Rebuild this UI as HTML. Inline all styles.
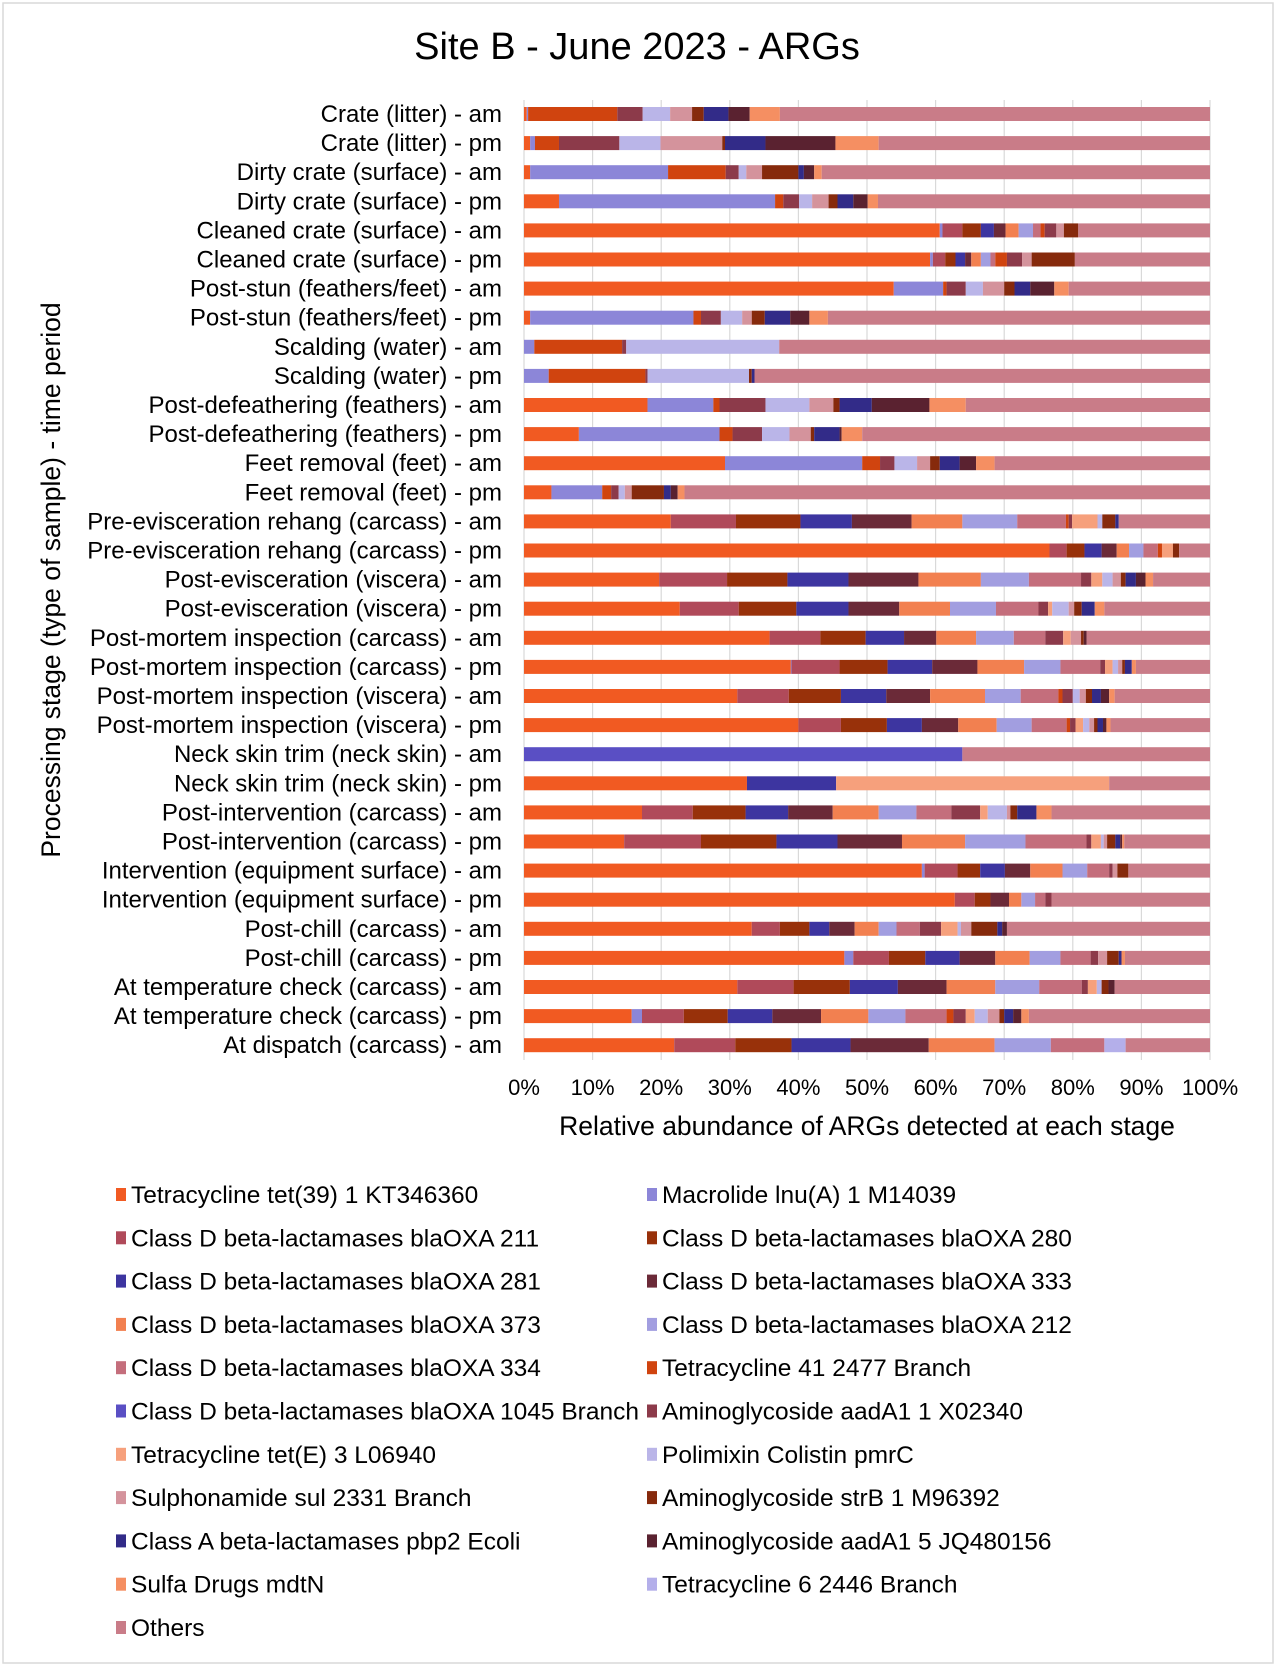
<!DOCTYPE html>
<html><head><meta charset="utf-8">
<style>
html,body{margin:0;padding:0;background:#fff;}
svg{display:block;font-family:"Liberation Sans",Arial,sans-serif;}
</style></head>
<body>
<svg id="chart" width="1277" height="1667" viewBox="0 0 1277 1667" xmlns="http://www.w3.org/2000/svg">
<rect x="3" y="3" width="1270" height="1660" fill="#fff" stroke="#d9d9d9" stroke-width="1.5"/>
<text x="637" y="59" font-size="38" text-anchor="middle" fill="#000">Site B - June 2023 - ARGs</text>
<text transform="translate(60,580) rotate(-90)" font-size="26.5" text-anchor="middle" fill="#000">Processing stage (type of sample) - time period</text>
<text x="867" y="1135" font-size="26.5" text-anchor="middle" fill="#000">Relative abundance of ARGs detected at each stage</text>
<g id="grid"></g><g id="bars"></g><g id="ylabels"></g><g id="xticks"></g><g id="legend"></g>
</svg>
<script>
const categories = ["Crate (litter) - am","Crate (litter) - pm","Dirty crate (surface) - am","Dirty crate (surface) - pm","Cleaned crate (surface) - am","Cleaned crate (surface) - pm","Post-stun (feathers/feet) - am","Post-stun (feathers/feet) - pm","Scalding (water) - am","Scalding (water) - pm","Post-defeathering (feathers) - am","Post-defeathering (feathers) - pm","Feet removal (feet) - am","Feet removal (feet) - pm","Pre-evisceration rehang (carcass) - am","Pre-evisceration rehang (carcass) - pm","Post-evisceration (viscera) - am","Post-evisceration (viscera) - pm","Post-mortem inspection  (carcass) - am","Post-mortem inspection  (carcass) - pm","Post-mortem inspection (viscera) - am","Post-mortem inspection (viscera) - pm","Neck skin trim (neck skin) - am","Neck skin trim (neck skin) - pm","Post-intervention (carcass) - am","Post-intervention (carcass) - pm","Intervention (equipment surface) - am","Intervention (equipment surface) - pm","Post-chill (carcass) - am","Post-chill (carcass) - pm","At temperature check (carcass) - am","At temperature check (carcass) - pm","At dispatch (carcass) - am"];
const seriesNames = ["Tetracycline tet(39) 1 KT346360","Macrolide lnu(A) 1 M14039","Class D beta-lactamases blaOXA 211","Class D beta-lactamases blaOXA 280","Class D beta-lactamases blaOXA 281","Class D beta-lactamases blaOXA 333","Class D beta-lactamases blaOXA 373","Class D beta-lactamases blaOXA 212","Class D beta-lactamases blaOXA 334","Tetracycline 41 2477 Branch","Class D beta-lactamases blaOXA 1045 Branch","Aminoglycoside aadA1 1 X02340","Tetracycline tet(E) 3 L06940","Polimixin Colistin pmrC","Sulphonamide sul 2331 Branch","Aminoglycoside strB 1 M96392","Class A beta-lactamases pbp2 Ecoli","Aminoglycoside aadA1 5 JQ480156","Sulfa Drugs mdtN","Tetracycline 6 2446 Branch","Others"];
const seriesColors = ["#F15A22","#8C86D8","#B04A5A","#98310A","#3D35A0","#6B2A38","#F28050","#A29EE0","#C46E7C","#D0440F","#5A4FC4","#8C3A4A","#F6A07C","#BAB5E8","#D4939C","#862A0C","#322B88","#5A2230","#F58F62","#B4AFEA","#C97C88"];
const tet39 = [0.4,0.9,0.9,5.1,60.6,59.2,53.9,0.9,0,0,18.0,8.0,29.3,4.0,21.4,76.6,19.7,22.7,35.8,38.9,31.1,40.0,0,32.5,17.2,14.6,58.0,62.8,33.2,46.7,31.1,15.7,21.9];
const lnuA = [0.2,0.7,20.1,31.5,0.4,0.4,7.2,23.8,1.5,3.6,9.6,20.5,20.0,7.4,0,0,0,0,0,0.1,0,0,0,0,0,0,0.4,0,0,1.3,0,1.5,0];
const oxa211 = [0,0,0,0,2.9,1.8,0,0,0,0,0,0,0,0,9.5,2.5,9.9,8.6,7.4,7.0,7.5,6.2,0,0,7.4,11.2,4.8,2.9,4.1,5.2,8.2,6.1,8.9];
const oxa280 = [0,0,0,0,2.7,1.5,0,0,0,0,0,0,0,0,9.4,2.6,8.8,8.4,6.6,7.0,7.6,6.7,0,0,7.7,11.0,3.3,2.3,4.3,5.3,8.2,6.4,8.2];
const oxa281 = [0,0,0,0,1.9,1.4,0,0,0,0,0,0,0,0,7.5,2.5,8.9,7.6,5.6,6.5,6.6,5.1,0,13.0,6.2,8.9,3.6,0,2.9,5.0,7.0,6.5,8.6];
const oxa333 = [0,0,0,0,1.7,0.9,0,0,0,0,0,0,0,0,8.7,2.2,10.2,7.4,4.7,6.6,6.4,5.3,0,0,6.5,9.4,3.7,2.7,3.7,5.2,7.1,7.1,11.4];
const oxa373 = [0,0,0,0,1.9,1.4,0,0,0,0,0,0,0,0,7.4,1.8,9.1,7.4,5.8,6.8,8.0,5.6,0,0,6.7,9.2,4.7,1.8,3.5,5.0,7.1,6.9,9.6];
const oxa212 = [0,0,0,0,2.1,1.4,0,0,0,0,0,0,0,0,8.0,2.1,7.0,6.7,5.5,5.3,5.2,5.1,0,0,5.5,8.8,3.6,2.0,2.6,4.5,6.4,5.4,8.2];
const oxa334 = [0,0,0,0,1.1,0.7,0,0,0,0,0,0,0,0,7.1,2.1,7.6,6.2,4.6,5.8,5.5,5.1,0,0,5.1,8.9,3.2,1.5,3.4,4.4,6.2,6.0,7.8];
const tet41 = [13.0,3.5,8.4,1.2,0.6,1.7,0.5,1.1,12.8,14.1,0.9,1.9,2.6,1.3,0.4,0.6,0,0,0,0,0.6,0.5,0,0,0,0,0,0,0,0,0,1.0,0];
const oxa1045 = [0,0,0,0,0,0,0,0,0,0,0,0,0,0,0,0,0,0,0,0,0,0,63.9,0,0,0,0,0,0,0,0,0,0];
const aadA1_1 = [3.7,8.8,1.9,2.3,1.7,2.2,2.8,2.9,0.6,0.3,6.7,4.3,2.1,1.1,0.5,0,1.5,1.4,2.6,0.7,1.5,0.8,0,0,4.2,0.7,0.5,0.9,3.1,1.1,0.9,1.8,0];
const tetE = [0,0,0,0,0,0,0,0,0,0,0,0,0,0,3.7,1.6,1.6,0.6,1.1,1.1,0,1.1,0,39.8,1.1,1.4,0,0,2.4,0,1.3,1.3,0];
const colistin = [4.0,6.0,1.1,1.9,0,0,2.5,3.1,22.3,14.8,6.4,4.0,3.3,0.9,0.7,0,1.5,2.4,0,0.8,1.0,0.9,0,0,2.8,0.4,0,0,0.5,0,0.7,1.9,0];
const sul = [3.2,9.0,2.3,2.4,1.1,1.4,3.1,1.4,0,0,3.5,3.1,1.9,1.0,0,0,1.2,0.8,1.5,0.6,0.9,0.7,0,0,0.5,0.5,0.7,0,1.5,1.3,0,1.7,0];
const strB = [1.7,0.4,5.3,1.3,2.1,6.3,1.5,1.9,0,0.4,0.9,0.5,1.4,4.7,1.9,0.9,0.7,1.1,0.4,0.4,0.9,0.5,0,0,1.0,1.2,1.6,0,3.8,1.7,1.0,0.7,0];
const pbp2 = [3.6,5.9,0.8,2.3,0,0,2.3,3.7,0,0.4,4.7,3.7,2.9,1.0,0.5,0,1.5,1.9,0,1.0,1.3,0.8,0,0,2.8,0.7,0,0,0.7,0.4,0,1.3,0];
const aadA1_5 = [3.1,10.2,1.5,2.1,0,0,3.5,2.8,0,0,8.4,0.3,2.4,1.0,0,0,1.4,0,0.4,0,1.2,0.5,0,0,0,0.3,0,0,0.7,0,0.9,1.2,0];
const mdtN = [4.4,6.3,1.1,1.5,0,0,2.1,2.7,0,0,5.3,3.0,2.7,1.0,0,0,1.1,1.4,0,0.6,0.8,0.6,0,0,2.2,0.3,0,0,0,0.5,0,1.1,0];
const tet6 = [0,0,0,0,0,0,0,0,0,0,0,0,0,0,0,0,0,0,0,0,0,0,0,0,0,0,0,0,0,0,0,0,3.1];
const others = [62.7,48.3,56.6,48.4,19.2,19.7,20.6,55.7,62.8,66.4,35.6,50.7,31.4,76.6,13.3,4.5,8.3,15.4,18.0,10.8,13.9,14.5,36.1,14.7,23.1,12.5,11.9,23.1,29.6,12.4,13.9,26.4,12.3];
const xTicks = [0,10,20,30,40,50,60,70,80,90,100];
const xTickLabels = ["0%","10%","20%","30%","40%","50%","60%","70%","80%","90%","100%"];

const series = [tet39,lnuA,oxa211,oxa280,oxa281,oxa333,oxa373,oxa212,oxa334,tet41,oxa1045,aadA1_1,tetE,colistin,sul,strB,pbp2,aadA1_5,mdtN,tet6,others];
const NS = "http://www.w3.org/2000/svg";
const X0 = 524, X1 = 1210, Y0 = 114, STEP = 29.1, BH = 14;
function xScale(v){ return X0 + (X1 - X0) * v / 100; }
function yScale(i){ return Y0 + STEP * i; }
function mk(tag, attrs, parent){ const e = document.createElementNS(NS, tag); for (const k in attrs) e.setAttribute(k, attrs[k]); parent.appendChild(e); return e; }

const grid = document.getElementById('grid');
xTicks.forEach((t, k) => {
  const ln = mk('line', {x1: xScale(t), x2: xScale(t), y1: 100, y2: 1060, stroke: '#d9d9d9', 'stroke-width': 1.2}, grid);
  
  
  const tx = mk('text', {x: xScale(t), y: 1095, 'font-size': 22, 'text-anchor': 'middle', fill: '#000'}, document.getElementById('xticks'));
  tx.textContent = xTickLabels[k];
  
  
});

const bars = document.getElementById('bars');
const ylab = document.getElementById('ylabels');
categories.forEach((c, i) => {
  const yc = yScale(i);
  let cum = 0;
  series.forEach((s, si) => {
    const v = s[i];
    if (v > 0) {
      const r = mk('rect', {x: xScale(cum), y: yc - BH / 2, width: xScale(cum + v) - xScale(cum), height: BH, fill: seriesColors[si]}, bars);
      
      
    }
    cum += v;
  });
  const t = mk('text', {x: 502, y: yc + 8, 'font-size': 24, 'text-anchor': 'end', fill: '#000'}, ylab);
  t.textContent = c;
  
  
});

const legend = document.getElementById('legend');
seriesNames.forEach((n, i) => {
  const col = i % 2, row = Math.floor(i / 2);
  const lx = col === 0 ? 116 : 647;
  const ly = 1195 + row * 43.3;
  const g = mk('g', {}, legend);
  
  
  mk('rect', {x: lx, y: ly - 7, width: 10, height: 13, fill: seriesColors[i]}, g);
  const t = mk('text', {x: lx + 15, y: ly + 8, 'font-size': 24.5, fill: '#000'}, g);
  t.textContent = n;
});
</script>
</body></html>
